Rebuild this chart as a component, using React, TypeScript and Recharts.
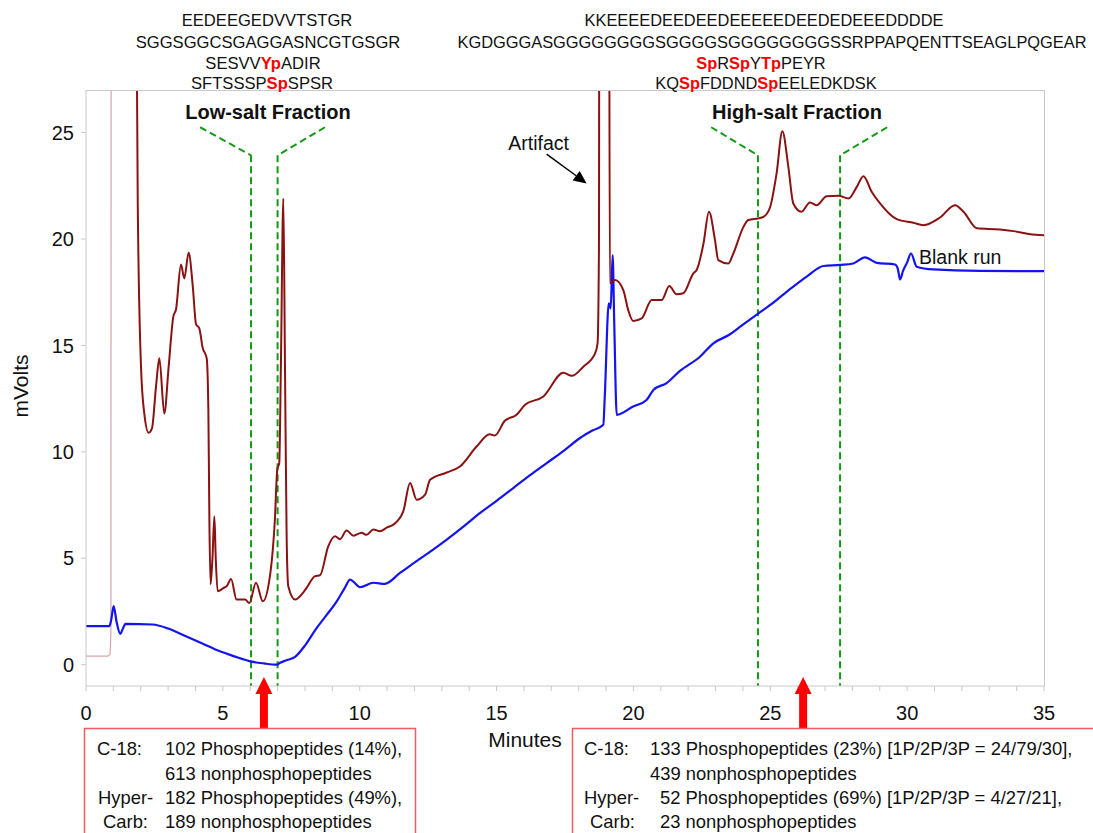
import React from 'react';
import { LineChart, Line, XAxis, YAxis, ReferenceLine, ReferenceDot } from 'recharts';

// ---- data (minutes, mVolts) ----
const injectionTimes = [0, 0.8, 0.88, 0.91, 0.92];
const injectionValues = [0.4, 0.4, 0.5, 1.5, 40];

const sampleTimes = [
  1.8, 1.89, 2.01, 2.13, 2.29, 2.41, 2.56, 2.68, 2.86, 3.02, 3.19, 3.29, 3.47, 3.59, 3.75, 3.9, 4.02, 4.14, 4.26, 4.41,
  4.47, 4.51, 4.55, 4.62, 4.69, 4.74, 4.81, 5.02, 5.15, 5.3, 5.5, 5.81, 5.97, 6.21, 6.46, 6.72, 6.9, 6.99, 7.06, 7.12,
  7.21, 7.27, 7.33, 7.39, 7.64, 7.94, 8.06, 8.37, 8.55, 8.85, 9.1, 9.28, 9.52, 9.77, 10.07, 10.25, 10.5, 10.74, 11.0, 11.23,
  11.59, 11.84, 12.08, 12.39, 12.57, 13.18, 13.66, 14.27, 14.75, 14.94, 15.3, 15.73, 16.04, 16.71, 17.44, 17.75, 18.17, 18.6, 18.69, 18.74,
  18.76, 19.1, 19.14, 19.33, 19.63, 19.81, 19.99, 20.3, 20.67, 21.03, 21.31, 21.58, 21.82, 22.19, 22.31, 22.56, 22.76, 22.98, 23.1, 23.47,
  23.65, 24.02, 24.2, 24.57, 24.75, 24.99, 25.23, 25.44, 25.66, 25.84, 26.14, 26.45, 26.7, 27.06, 27.49, 27.86, 28.16, 28.4, 28.71, 29.01,
  29.62, 30.23, 30.59, 31.2, 31.75, 32.06, 32.55, 33.39, 33.88, 34.49, 35.0,
];
const sampleValues = [
  40, 21.8, 14.0, 11.8, 10.9, 11.1, 13.1, 14.4, 11.8, 14.0, 16.35, 16.7, 18.8, 18.15, 19.35, 17.8, 16.0, 15.8, 14.9, 14.4,
  12.0, 6.5, 3.77, 5.0, 6.97, 5.0, 3.45, 3.6, 3.7, 4.03, 3.06, 3.06, 2.9, 3.85, 2.98, 4.16, 6.81, 9.2, 9.47, 14.0,
  21.9, 14.0, 6.0, 3.69, 3.06, 3.4, 3.61, 4.16, 4.2, 5.56, 6.03, 5.9, 6.3, 6.06, 6.2, 6.1, 6.35, 6.27, 6.45, 6.58,
  7.2, 8.54, 7.75, 7.99, 8.69, 9.03, 9.31, 10.25, 10.83, 10.77, 11.46, 11.74, 12.21, 12.6, 13.72, 13.57, 14.0, 14.63, 15.1, 19.5,
  40, 40, 17.92, 18.07, 17.6, 16.66, 16.15, 16.27, 17.13, 17.13, 17.79, 17.4, 17.45, 18.39, 18.54, 19.79, 21.28, 19.95, 19.01, 18.85,
  19.32, 20.57, 20.89, 20.97, 21.04, 21.48, 23.08, 25.06, 23.39, 21.67, 21.28, 21.72, 21.59, 22.01, 22.03, 21.9, 22.45, 22.95, 22.21, 21.67,
  20.93, 20.76, 20.65, 21.01, 21.59, 21.28, 20.5, 20.45, 20.37, 20.22, 20.18,
];

const blankTimes = [
  0, 0.85, 0.92, 1.01, 1.12, 1.25, 1.35, 1.44, 2.44, 3.0, 3.65, 4.25, 4.87, 5.45, 5.97, 6.5, 6.97, 7.09, 7.3, 7.64,
  8.0, 8.43, 8.8, 9.16, 9.45, 9.65, 9.85, 10.01, 10.5, 10.92, 11.47, 12.0, 12.54, 13.18, 13.8, 14.4, 15.0, 15.61, 16.2, 16.83,
  17.45, 18.05, 18.5, 18.9, 18.95, 19.1, 19.17, 19.24, 19.3, 19.39, 19.99, 20.48, 20.73, 21.21, 21.7, 22.43, 22.92, 23.5, 23.9, 24.57,
  25.0, 25.38, 25.84, 26.33, 26.94, 27.55, 28.03, 28.46, 28.89, 29.56, 29.66, 29.74, 29.85, 30.0, 30.14, 30.35, 30.96, 32.66, 35.0,
];
const blankValues = [
  1.81, 1.81, 2.1, 2.75, 2.0, 1.45, 1.7, 1.92, 1.89, 1.7, 1.34, 1.0, 0.64, 0.38, 0.17, 0.06, 0.0, 0.09, 0.2, 0.37,
  0.9, 1.73, 2.35, 2.98, 3.6, 4.0, 3.8, 3.64, 3.85, 3.8, 4.31, 4.8, 5.28, 5.88, 6.5, 7.13, 7.7, 8.3, 8.88, 9.47,
  10.05, 10.65, 11.0, 11.27, 12.5, 16.98, 16.74, 19.24, 16.0, 11.74, 12.13, 12.44, 12.91, 13.23, 13.8, 14.47, 15.1, 15.5, 15.88, 16.51,
  16.9, 17.29, 17.76, 18.23, 18.73, 18.78, 18.85, 19.14, 18.88, 18.8, 18.6, 18.1, 18.5, 18.9, 19.32, 18.7, 18.57, 18.5, 18.49,
];

const xTicks = [0, 1, 2, 3, 4, 5, 6, 7, 8, 9, 10, 11, 12, 13, 14, 15, 16, 17, 18, 19, 20, 21, 22, 23, 24, 25, 26, 27, 28, 29, 30, 31, 32, 33, 34, 35];
const xLabelTicks = [0, 5, 10, 15, 20, 25, 30, 35];
const yTicks = [0, 5, 10, 15, 20, 25];

// fraction windows: bracket outer x and fraction bound x
const fractionBounds = [
  { outer: 4.17, inner: 6.03 },
  { outer: 8.73, inner: 7.0 },
  { outer: 22.84, inner: 24.55 },
  { outer: 29.27, inner: 27.55 },
];
const bracketTopY = 25.25;
const bracketCornerY = 23.93;
const fractionArrowX = [6.5, 26.2];
const fractionArrowY = -0.58;
const artifactTip = { x: 18.29, y: 22.61 };

const zip = (ts: number[], vs: number[]) => ts.map((t, i) => ({ t, v: vs[i] }));
const injectionData = zip(injectionTimes, injectionValues);
const sampleData = zip(sampleTimes, sampleValues);
const blankData = zip(blankTimes, blankValues);

const FONT = '"Liberation Sans", Arial, Helvetica, sans-serif';
const GREEN = '#139a13';
const AXIS = '#c9c9c9';

const RedArrow = (props: any) => {
  const { cx, cy } = props;
  if (cx == null || cy == null) return null;
  const pts = [
    [cx, cy],
    [cx + 8.5, cy + 17],
    [cx + 4, cy + 17],
    [cx + 4, cy + 51],
    [cx - 4, cy + 51],
    [cx - 4, cy + 17],
    [cx - 8.5, cy + 17],
  ]
    .map((p) => p.join(','))
    .join(' ');
  return <polygon points={pts} fill="#ff0000" />;
};

const ArtifactArrow = (props: any) => {
  const { cx, cy } = props;
  if (cx == null || cy == null) return null;
  const sx = cx - 40;
  const sy = cy - 29.3;
  const dx = 0.806;
  const dy = 0.591;
  const bx = cx - 13 * dx;
  const by = cy - 13 * dy;
  const px = -dy * 6;
  const py = dx * 6;
  return (
    <g>
      <line x1={sx} y1={sy} x2={bx} y2={by} stroke="#000" strokeWidth={1.5} />
      <polygon points={`${cx},${cy} ${bx + px},${by + py} ${bx - px},${by - py}`} fill="#000" />
      <text x={cx - 48} y={cy - 33} textAnchor="middle" fontFamily={FONT} fontSize={19.5} fill="#111">
        Artifact
      </text>
    </g>
  );
};

const red = { fill: '#ff0000', fontWeight: 'bold' as const };

export default function App() {
  return (
    <div style={{ position: 'absolute', left: 0, top: 0, width: 1093, height: 833, background: '#fff', overflow: 'hidden' }}>
      <LineChart width={1093} height={833} margin={{ top: 90, right: 49, bottom: 117, left: 0 }}>
        <XAxis
          dataKey="t"
          type="number"
          domain={[0, 35]}
          ticks={xTicks}
          interval={0}
          allowDataOverflow
          tickFormatter={(v: number) => (xLabelTicks.includes(v) ? String(v) : '')}
          height={30}
          tickSize={5}
          tickMargin={15}
          axisLine={{ stroke: AXIS }}
          tickLine={{ stroke: AXIS }}
          tick={{ fontSize: 20, fill: '#111', fontFamily: FONT }}
        />
        <YAxis
          type="number"
          domain={[-1, 27]}
          ticks={yTicks}
          allowDataOverflow
          width={86}
          tickSize={5}
          tickMargin={7}
          axisLine={{ stroke: AXIS }}
          tickLine={{ stroke: AXIS }}
          tick={{ fontSize: 20, fill: '#111', fontFamily: FONT }}
        />
        {fractionBounds.map((f, i) => (
          <ReferenceLine
            key={'d' + i}
            ifOverflow="visible"
            segment={[
              { x: f.outer, y: bracketTopY },
              { x: f.inner, y: bracketCornerY },
            ]}
            stroke={GREEN}
            strokeWidth={2}
            strokeDasharray="7 4"
          />
        ))}
        {fractionBounds.map((f, i) => (
          <ReferenceLine
            key={'v' + i}
            ifOverflow="visible"
            segment={[
              { x: f.inner, y: bracketCornerY },
              { x: f.inner, y: -1 },
            ]}
            stroke={GREEN}
            strokeWidth={2}
            strokeDasharray="7 4"
          />
        ))}
        <Line data={injectionData} dataKey="v" type="linear" stroke="#d8a4a8" strokeWidth={1.2} dot={false} activeDot={false} isAnimationActive={false} />
        <Line data={blankData} dataKey="v" type="monotone" stroke="#1414f0" strokeWidth={2.2} dot={false} activeDot={false} isAnimationActive={false} />
        <Line data={sampleData} dataKey="v" type="monotone" stroke="#8a1212" strokeWidth={2} dot={false} activeDot={false} isAnimationActive={false} />
        {fractionArrowX.map((x, i) => (
          <ReferenceDot key={'a' + i} x={x} y={fractionArrowY} ifOverflow="visible" shape={RedArrow} />
        ))}
        <ReferenceDot x={artifactTip.x} y={artifactTip.y} ifOverflow="visible" shape={ArtifactArrow} />
      </LineChart>
      <svg
        width={1093}
        height={833}
        style={{ position: 'absolute', left: 0, top: 0, pointerEvents: 'none' }}
        fontFamily={FONT}
      >
        <line x1={86} y1={90.5} x2={1044.5} y2={90.5} stroke={AXIS} />
        <line x1={1044.5} y1={90} x2={1044.5} y2={686} stroke={AXIS} />

        <g fontSize={16.6} fill="#111" textAnchor="middle">
          <text x={267} y={26}>EEDEEGEDVVTSTGR</text>
          <text x={268} y={48}>SGGSGGCSGAGGASNCGTGSGR</text>
          <text x={263} y={69}>
            SESVV<tspan {...red}>Yp</tspan>ADIR
          </text>
          <text x={262} y={89}>
            SFTSSSP<tspan {...red}>Sp</tspan>SPSR
          </text>
        </g>
        <g fontSize={16.4} fill="#111" textAnchor="middle">
          <text x={764} y={26}>KKEEEEDEEDEEDEEEEEDEEDEDEEEDDDDE</text>
          <text x={772} y={48}>KGDGGGASGGGGGGGGSGGGGSGGGGGGGGSSRPPAPQENTTSEAGLPQGEAR</text>
          <text x={761} y={69}>
            <tspan {...red}>Sp</tspan>R<tspan {...red}>Sp</tspan>Y<tspan {...red}>Tp</tspan>PEYR
          </text>
          <text x={766} y={89}>
            KQ<tspan {...red}>Sp</tspan>FDDND<tspan {...red}>Sp</tspan>EELEDKDSK
          </text>
        </g>

        <g fontSize={20} fontWeight="bold" fill="#111" textAnchor="middle">
          <text x={268} y={119}>Low-salt Fraction</text>
          <text x={797} y={119}>High-salt Fraction</text>
        </g>

        <text x={919} y={264} fontSize={19.5} fill="#111">Blank run</text>

        <text x={28} y={386} fontSize={21} fill="#111" textAnchor="middle" transform="rotate(-90 28 386)">mVolts</text>
        <text x={525} y={747} fontSize={21} fill="#111" textAnchor="middle">Minutes</text>

        <rect x={84.5} y={728.5} width={331} height={130} fill="none" stroke="#f25c5c" strokeWidth={1.5} />
        <g fontSize={18.4} fill="#111">
          <text x={97} y={755}>C-18:</text>
          <text x={165} y={755}>102 Phosphopeptides (14%),</text>
          <text x={165} y={780}>613 nonphosphopeptides</text>
          <text x={98} y={804}>Hyper-</text>
          <text x={165} y={804}>182 Phosphopeptides (49%),</text>
          <text x={103} y={828}>Carb:</text>
          <text x={165} y={828}>189 nonphosphopeptides</text>
        </g>

        <rect x={572.5} y={728.5} width={560} height={130} fill="none" stroke="#f25c5c" strokeWidth={1.5} />
        <g fontSize={18.4} fill="#111">
          <text x={584} y={755}>C-18:</text>
          <text x={650} y={755}>133 Phosphopeptides (23%) [1P/2P/3P = 24/79/30],</text>
          <text x={650} y={780}>439 nonphosphopeptides</text>
          <text x={584} y={804}>Hyper-</text>
          <text x={660} y={804}>52 Phosphopeptides (69%) [1P/2P/3P = 4/27/21],</text>
          <text x={590} y={828}>Carb:</text>
          <text x={660} y={828}>23 nonphosphopeptides</text>
        </g>
      </svg>
    </div>
  );
}
